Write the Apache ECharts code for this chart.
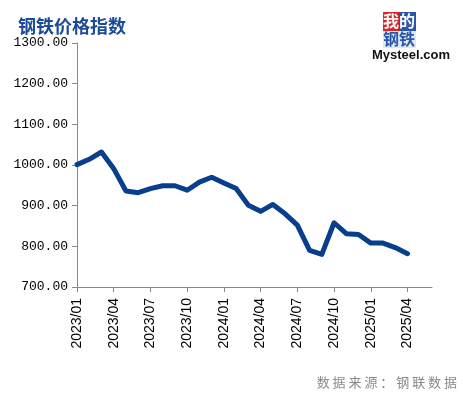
<!DOCTYPE html>
<html>
<head>
<meta charset="utf-8">
<script src="https://cdn.jsdelivr.net/npm/echarts@6/dist/echarts.min.js"></script>
<style>
  html, body { margin: 0; padding: 0; background: #fff; }
  #main { width: 463px; height: 397px; }
</style>
</head>
<body>
<div id="main"></div>
<script>
// months shown on the x axis (last two have no data yet)
const months = [
  '2023/01','2023/02','2023/03','2023/04','2023/05','2023/06','2023/07','2023/08','2023/09','2023/10','2023/11','2023/12',
  '2024/01','2024/02','2024/03','2024/04','2024/05','2024/06','2024/07','2024/08','2024/09','2024/10','2024/11','2024/12',
  '2025/01','2025/02','2025/03','2025/04','2025/05','2025/06'
];
const priceIndex = [
  1001, 1014, 1032, 991, 936, 932, 942, 949, 949, 938, 958, 970,
  956, 942, 901, 886, 903, 880, 852, 790, 780, 858, 831, 829,
  808, 808, 797, 782
];
const yMin = 700, yMax = 1300, yStep = 100;

const chart = echarts.init(document.getElementById('main'));
const option = {
  animation: false,
  title: {
    text: '钢铁价格指数',
    left: 13,
    top: 12,
    textStyle: { color: '#1b4a98', fontSize: 18, fontWeight: 'bold', fontFamily: 'Noto Sans CJK SC' }
  },
  graphic: [
    // logo block
    { type: 'rect', shape: { x: 383, y: 12, width: 16, height: 19 }, style: { fill: '#d8252b' } },
    { type: 'rect', shape: { x: 399, y: 12, width: 17, height: 19 }, style: { fill: '#2a56a8' } },
    { type: 'rect', shape: { x: 383, y: 31, width: 33, height: 17 }, style: { fill: '#dfe7f4' } },
    { type: 'text', style: { x: 383, y: 13, text: '我', fill: '#fff', font: 'bold 16px "Noto Sans CJK SC"' } },
    { type: 'text', style: { x: 399, y: 13, text: '的', fill: '#fff', font: 'bold 16px "Noto Sans CJK SC"' } },
    { type: 'text', style: { x: 383, y: 31, text: '钢铁', fill: '#2a56a8', font: 'bold 16px "Noto Sans CJK SC"' } },
    { type: 'text', style: { x: 372, y: 49, text: 'Mysteel.com', fill: '#111', font: 'bold 13px "Liberation Sans"' } },
    { type: 'text', right: 6, top: 376, style: { text: '数 据 来 源 ： 钢 联 数 据', fill: '#8a8a8a', font: '13px "Noto Sans CJK SC"' } }
  ],
  grid: { left: 77, right: 31, top: 43, bottom: 110 },
  xAxis: {
    type: 'category',
    data: months,
    boundaryGap: false,
    axisLine: { lineStyle: { color: '#888', width: 1 } },
    axisTick: { interval: 2, length: 5, lineStyle: { color: '#888' } },
    axisLabel: {
      interval: 2,
      rotate: 90,
      color: '#000',
      fontSize: 14,
      fontFamily: 'Liberation Sans',
      margin: 11
    },
    splitLine: { show: false }
  },
  yAxis: {
    type: 'value',
    min: yMin,
    max: yMax,
    interval: yStep,
    axisLine: { show: true, lineStyle: { color: '#888', width: 1 } },
    axisTick: { show: true, length: 5, lineStyle: { color: '#888' } },
    axisLabel: {
      color: '#000',
      fontSize: 13,
      fontFamily: 'Liberation Mono',
      margin: 9,
      formatter: v => v.toFixed(2)
    },
    splitLine: { show: false }
  },
  series: [{
    type: 'line',
    data: priceIndex,
    showSymbol: false,
    lineStyle: { color: '#083f8c', width: 5, join: 'round', cap: 'round' }
  }]
};
chart.setOption(option);
</script>
</body>
</html>
